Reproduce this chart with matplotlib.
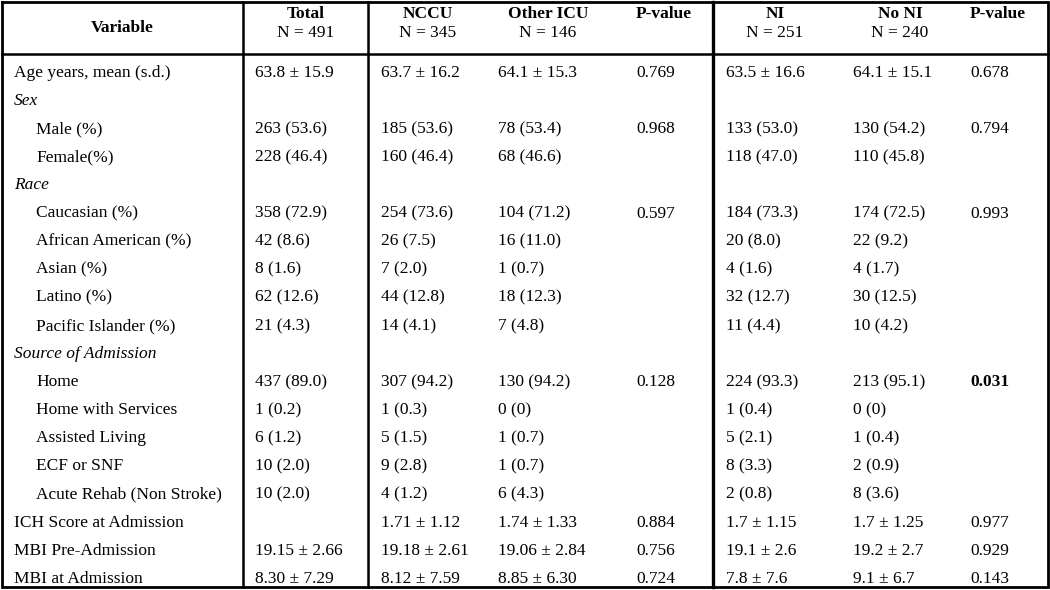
import matplotlib
matplotlib.use("Agg")
import matplotlib.pyplot as plt

plt.rcParams['font.family'] = ['Liberation Serif', 'DejaVu Serif']

header_titles = ["Variable", "Total", "NCCU", "Other ICU", "P-value", "NI", "No NI", "P-value"]
header_counts = ["", "N = 491", "N = 345", "N = 146", "", "N = 251", "N = 240", ""]

variables = ["Age years, mean (s.d.)", "Sex", "Male (%)", "Female(%)", "Race",
             "Caucasian (%)", "African American (%)", "Asian (%)", "Latino (%)",
             "Pacific Islander (%)", "Source of Admission", "Home", "Home with Services",
             "Assisted Living", "ECF or SNF", "Acute Rehab (Non Stroke)",
             "ICH Score at Admission", "MBI Pre-Admission", "MBI at Admission"]
indent = [0, 0, 1, 1, 0, 1, 1, 1, 1, 1, 0, 1, 1, 1, 1, 1, 0, 0, 0]
section = [0, 1, 0, 0, 1, 0, 0, 0, 0, 0, 1, 0, 0, 0, 0, 0, 0, 0, 0]

total = ["63.8 ± 15.9", "", "263 (53.6)", "228 (46.4)", "", "358 (72.9)", "42 (8.6)",
         "8 (1.6)", "62 (12.6)", "21 (4.3)", "", "437 (89.0)", "1 (0.2)", "6 (1.2)",
         "10 (2.0)", "10 (2.0)", "", "19.15 ± 2.66", "8.30 ± 7.29"]
nccu = ["63.7 ± 16.2", "", "185 (53.6)", "160 (46.4)", "", "254 (73.6)", "26 (7.5)",
        "7 (2.0)", "44 (12.8)", "14 (4.1)", "", "307 (94.2)", "1 (0.3)", "5 (1.5)",
        "9 (2.8)", "4 (1.2)", "1.71 ± 1.12", "19.18 ± 2.61", "8.12 ± 7.59"]
other_icu = ["64.1 ± 15.3", "", "78 (53.4)", "68 (46.6)", "", "104 (71.2)", "16 (11.0)",
             "1 (0.7)", "18 (12.3)", "7 (4.8)", "", "130 (94.2)", "0 (0)", "1 (0.7)",
             "1 (0.7)", "6 (4.3)", "1.74 ± 1.33", "19.06 ± 2.84", "8.85 ± 6.30"]
p_icu = ["0.769", "", "0.968", "", "", "0.597", "", "", "", "", "", "0.128", "", "",
         "", "", "0.884", "0.756", "0.724"]
ni = ["63.5 ± 16.6", "", "133 (53.0)", "118 (47.0)", "", "184 (73.3)", "20 (8.0)",
      "4 (1.6)", "32 (12.7)", "11 (4.4)", "", "224 (93.3)", "1 (0.4)", "5 (2.1)",
      "8 (3.3)", "2 (0.8)", "1.7 ± 1.15", "19.1 ± 2.6", "7.8 ± 7.6"]
no_ni = ["64.1 ± 15.1", "", "130 (54.2)", "110 (45.8)", "", "174 (72.5)", "22 (9.2)",
         "4 (1.7)", "30 (12.5)", "10 (4.2)", "", "213 (95.1)", "0 (0)", "1 (0.4)",
         "2 (0.9)", "8 (3.6)", "1.7 ± 1.25", "19.2 ± 2.7", "9.1 ± 6.7"]
p_ni = ["0.678", "", "0.794", "", "", "0.993", "", "", "", "", "", "0.031", "", "",
        "", "", "0.977", "0.929", "0.143"]
p_ni_bold = [0, 0, 0, 0, 0, 0, 0, 0, 0, 0, 0, 1, 0, 0, 0, 0, 0, 0, 0]

W, H = 1050, 590
fig = plt.figure(figsize=(W / 100, H / 100), dpi=100)
ax = fig.add_axes([0, 0, 1, 1])
ax.set_xlim(0, W)
ax.set_ylim(H, 0)
ax.axis('off')

FS = 12.5
lw_thick = 2.0

# borders and grid lines
ax.plot([2, 1048, 1048, 2, 2], [2, 2, 587, 587, 2], color='black', lw=lw_thick,
        solid_joinstyle='miter')
ax.plot([2, 1048], [54, 54], color='black', lw=1.8)
for xv, lw in [(243, 1.8), (368, 1.8), (713, 2.4)]:
    ax.plot([xv, xv], [2, 587], color='black', lw=lw)

# header
header_centers = [122, 306, 428, 548, None, 775, 900, None]
header_left = {4: 636, 7: 970}
for i, (t, c) in enumerate(zip(header_titles, header_counts)):
    if i == 0:
        ax.text(122, 28, t, ha='center', va='center', fontsize=FS, fontweight='bold')
        continue
    if i in header_left:
        ax.text(header_left[i], 14, t, ha='left', va='center', fontsize=FS, fontweight='bold')
    else:
        ax.text(header_centers[i], 14, t, ha='center', va='center', fontsize=FS, fontweight='bold')
        ax.text(header_centers[i], 33, c, ha='center', va='center', fontsize=FS)

# body
y0, dy = 73, 28.1
col_x = [255, 381, 498, 636, 726, 853, 970]
cols = [total, nccu, other_icu, p_icu, ni, no_ni, p_ni]
for r, name in enumerate(variables):
    y = y0 + r * dy
    ax.text(36 if indent[r] else 14, y, name, ha='left', va='center', fontsize=FS,
            style='italic' if section[r] else 'normal')
    for ci, (xc, col) in enumerate(zip(col_x, cols)):
        bold = (ci == 6 and p_ni_bold[r])
        ax.text(xc, y, col[r], ha='left', va='center', fontsize=FS,
                fontweight='bold' if bold else 'normal')

fig.savefig("out.png", dpi=100)
